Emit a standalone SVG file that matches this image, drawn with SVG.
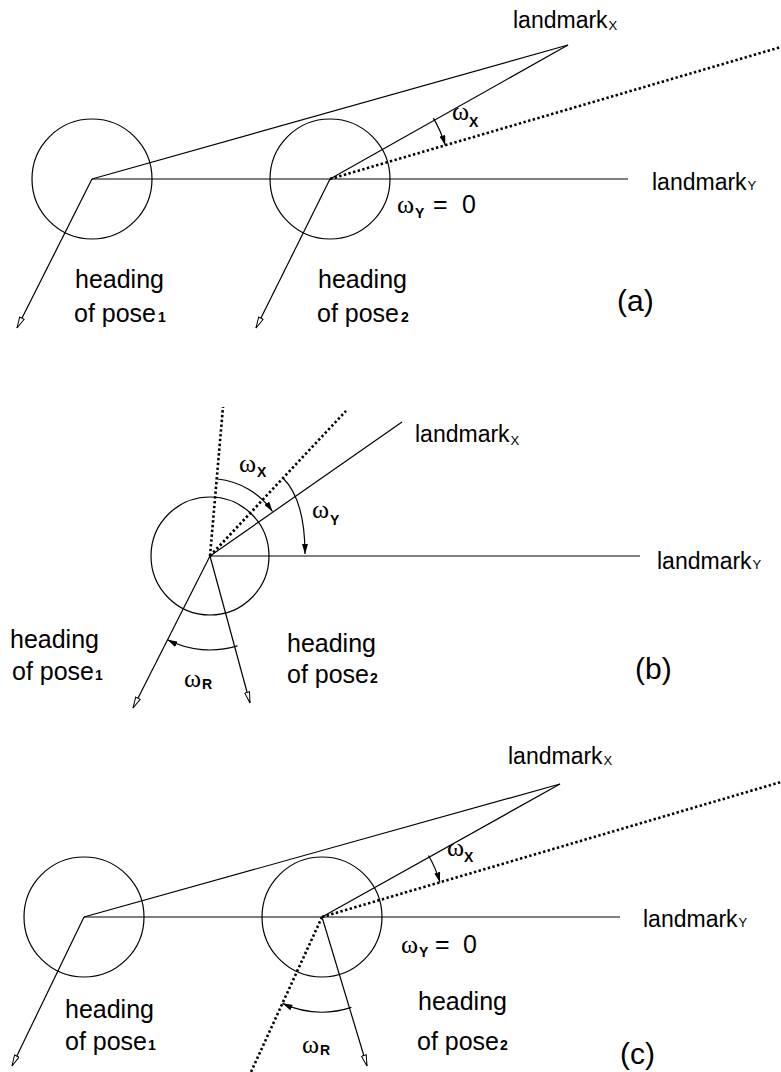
<svg xmlns="http://www.w3.org/2000/svg" width="781" height="1072" viewBox="0 0 781 1072">
<defs>
<style>
.ln{stroke:#000;stroke-width:1.2;fill:none}
.dt{stroke:#000;stroke-width:2.6;stroke-dasharray:2.4 2.4;fill:none}
.c{stroke:#000;stroke-width:1.2;fill:none}
.t{font-family:"Liberation Sans",Arial,sans-serif;font-size:23px;fill:#000}
.h{font-family:"Liberation Sans",Arial,sans-serif;font-size:25px;fill:#000}
.big{font-family:"Liberation Sans",Arial,sans-serif;font-size:30px;fill:#000}
.w{font-family:"Liberation Serif","DejaVu Serif",serif;font-size:26px;fill:#000}
.s{font-family:"Liberation Sans",Arial,sans-serif;font-size:14px;font-weight:bold;fill:#000}
.ls{font-family:"Liberation Sans",Arial,sans-serif;font-size:13px;fill:#000}
.head{stroke:#000;stroke-width:1.2;fill:none;marker-end:url(#open)}
.ang{stroke:#000;stroke-width:1.2;fill:none;marker-end:url(#solid)}
</style>
<marker id="open" markerUnits="userSpaceOnUse" viewBox="0 0 12 6" refX="11.5" refY="3" markerWidth="12" markerHeight="6" orient="auto">
<path d="M0.5,0.5 L11.5,3 L0.5,5.5 Z" fill="#fff" stroke="#000" stroke-width="1"/>
</marker>
<marker id="solid" markerUnits="userSpaceOnUse" viewBox="0 0 10 6" refX="10" refY="3" markerWidth="10" markerHeight="6" orient="auto">
<path d="M0,0 L10,3 L0,6 Z" fill="#000"/>
</marker>
</defs>
<rect width="781" height="1072" fill="#fff"/>

<!-- Panel (a) -->
<g id="a-pose1"><circle class="c" cx="92" cy="179" r="60"/></g>
<g id="a-pose2"><circle class="c" cx="330" cy="179" r="60"/></g>
<g id="a-connectors">
<line class="ln" x1="92" y1="179" x2="568" y2="45"/>
<line class="ln" x1="330" y1="179" x2="568" y2="45"/>
<line class="ln" x1="92" y1="179" x2="628" y2="179"/>
<line class="dt" x1="330" y1="179" x2="781" y2="47"/>
<line class="head" x1="92" y1="179" x2="17" y2="328"/>
<line class="head" x1="330" y1="179" x2="256" y2="328"/>
<path class="ang" d="M433.4,118.1 A120,120 0 0 1 445.2,145.3"/>
</g>
<g id="a-labels">
<text class="t" x="513" y="28">landmark<tspan class="ls" dx="1" dy="2">X</tspan></text>
<text class="t" x="652" y="190">landmark<tspan class="ls" dx="1">Y</tspan></text>
<text class="w" x="452" y="120">ω</text><text class="s" x="469" y="127">X</text>
<text class="w" x="397" y="213">ω</text><text class="s" x="415" y="218">Y</text>
<text class="h" x="433" y="213">=</text><text class="h" x="462" y="213">0</text>
<text class="h" x="75" y="288">heading</text>
<text class="h" x="74" y="322">of pose<tspan class="s" dx="2">1</tspan></text>
<text class="h" x="318" y="288">heading</text>
<text class="h" x="317" y="322">of pose<tspan class="s" dx="2">2</tspan></text>
<text class="big" x="617" y="311">(a)</text>
</g>

<!-- Panel (b) -->
<g id="b-pose"><circle class="c" cx="210" cy="556" r="59"/></g>
<g id="b-connectors">
<line class="ln" x1="210" y1="556" x2="640" y2="556"/>
<line class="ln" x1="210" y1="556" x2="402" y2="422"/>
<line class="dt" x1="210" y1="556" x2="223" y2="407"/>
<line class="dt" x1="210" y1="556" x2="346" y2="411"/>
<line class="head" x1="210" y1="556" x2="133" y2="708"/>
<line class="head" x1="210" y1="556" x2="250" y2="703"/>
<path class="ang" d="M217.5,479 A77,77 0 0 1 272.5,511.5"/>
<path class="ang" d="M283,478 Q305,500 305,554"/>
<path class="ang" d="M237.5,645.9 A94,94 0 0 1 167.5,639.8"/>
</g>
<g id="b-labels">
<text class="t" x="415" y="442">landmark<tspan class="ls" dx="1" dy="3">X</tspan></text>
<text class="t" x="657" y="569">landmark<tspan class="ls" dx="1">Y</tspan></text>
<text class="w" x="239" y="472">ω</text><text class="s" x="257" y="477">X</text>
<text class="w" x="312" y="518">ω</text><text class="s" x="330" y="525">Y</text>
<text class="h" x="10" y="648">heading</text>
<text class="h" x="12" y="680">of pose<tspan class="s" dx="1">1</tspan></text>
<text class="h" x="287" y="652">heading</text>
<text class="h" x="287" y="683">of pose<tspan class="s" dx="1">2</tspan></text>
<text class="w" x="184" y="687">ω</text><text class="s" x="202" y="689">R</text>
<text class="big" x="635" y="679">(b)</text>
</g>

<!-- Panel (c) -->
<g id="c-pose1"><circle class="c" cx="84" cy="917" r="60"/></g>
<g id="c-pose2"><circle class="c" cx="322" cy="917" r="60"/></g>
<g id="c-connectors">
<line class="ln" x1="84" y1="917" x2="560" y2="784"/>
<line class="ln" x1="322" y1="917" x2="560" y2="784"/>
<line class="ln" x1="84" y1="917" x2="620" y2="917"/>
<line class="dt" x1="322" y1="917" x2="781" y2="782"/>
<line class="dt" x1="322" y1="917" x2="251" y2="1072"/>
<line class="head" x1="84" y1="917" x2="12" y2="1066"/>
<line class="head" x1="322" y1="917" x2="367" y2="1066"/>
<path class="ang" d="M428.5,855.5 A123,123 0 0 1 440,882.3"/>
<path class="ang" d="M351.4,1007.4 A95,95 0 0 1 282.5,1003.4"/>
</g>
<g id="c-labels">
<text class="t" x="508" y="764">landmark<tspan class="ls" dx="1" dy="1">X</tspan></text>
<text class="t" x="643" y="927">landmark<tspan class="ls" dx="1">Y</tspan></text>
<text class="w" x="447" y="856">ω</text><text class="s" x="464" y="862">X</text>
<text class="w" x="401" y="953">ω</text><text class="s" x="419" y="957">Y</text>
<text class="h" x="435" y="953">=</text><text class="h" x="463" y="953">0</text>
<text class="h" x="418" y="1010">heading</text>
<text class="h" x="417" y="1050">of pose<tspan class="s" dx="1">2</tspan></text>
<text class="h" x="65" y="1018">heading</text>
<text class="h" x="65" y="1050">of pose<tspan class="s" dx="1">1</tspan></text>
<text class="w" x="302" y="1053">ω</text><text class="s" x="320" y="1055">R</text>
<text class="big" x="620" y="1064">(c)</text>
</g>
</svg>
